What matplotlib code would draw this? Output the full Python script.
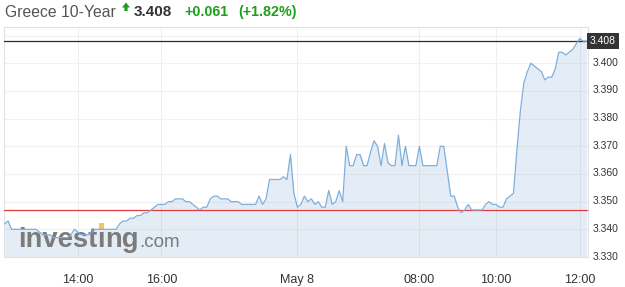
import matplotlib
matplotlib.use('Agg')
import matplotlib.pyplot as plt
import matplotlib.transforms as mtransforms
from matplotlib.patches import Polygon, Rectangle
import numpy as np

# ---------------- data ----------------
values = [
    3.342, 3.343, 3.340, 3.340, 3.340, 3.340, 3.340, 3.340, 3.340, 3.340,
    3.339, 3.338, 3.338, 3.338, 3.337, 3.337, 3.337, 3.337, 3.337, 3.338,
    3.340, 3.339, 3.338, 3.338, 3.338, 3.339, 3.340, 3.340, 3.340, 3.340,
    3.340, 3.340, 3.340, 3.342, 3.343, 3.343, 3.344, 3.344, 3.345, 3.345,
    3.346, 3.346, 3.347, 3.348, 3.349, 3.349, 3.349, 3.350, 3.350, 3.351,
    3.351, 3.351, 3.350, 3.350, 3.349, 3.348, 3.347, 3.348, 3.348, 3.351,
    3.352, 3.352, 3.351, 3.351, 3.351, 3.350, 3.350, 3.350, 3.349, 3.349,
    3.349, 3.349, 3.349, 3.352, 3.349, 3.351, 3.358, 3.358, 3.358, 3.358,
    3.359, 3.358, 3.367, 3.353, 3.348, 3.349, 3.352, 3.350, 3.351, 3.349,
    3.350, 3.348, 3.348, 3.354, 3.349, 3.350, 3.354, 3.350, 3.370, 3.363,
    3.363, 3.367, 3.367, 3.363, 3.363, 3.368, 3.372, 3.370, 3.363, 3.371,
    3.364, 3.363, 3.363, 3.374, 3.363, 3.370, 3.363, 3.363, 3.363, 3.370,
    3.363, 3.363, 3.363, 3.363, 3.363, 3.370, 3.370, 3.361, 3.352, 3.352,
    3.348, 3.346, 3.347, 3.349, 3.347, 3.347, 3.347, 3.347, 3.349, 3.350,
    3.349, 3.349, 3.348, 3.348, 3.351, 3.352, 3.353, 3.369, 3.383, 3.393,
    3.397, 3.400, 3.399, 3.398, 3.397, 3.394, 3.395, 3.395, 3.398, 3.404,
    3.404, 3.403, 3.404, 3.405, 3.407, 3.409, 3.408, 3.408,
]
x_tick_pos = [21, 45, 84, 119, 141, 165]
x_tick_labels = ['14:00', '16:00', 'May 8', '08:00', '10:00', '12:00']
y_ticks = [3.330, 3.340, 3.350, 3.360, 3.370, 3.380, 3.390, 3.400, 3.410]
y_tick_labels = ['3.330', '3.340', '3.350', '3.360', '3.370', '3.380', '3.390', '3.400', '']
prev_close = 3.347
last_value = 3.408
title_name = 'Greece 10-Year'
last_label = '3.408'
change_label = '+0.061'
pct_label = '(+1.82%)'

# ---------------- figure ----------------
plt.rcParams['font.family'] = ['Liberation Sans', 'DejaVu Sans']
W, H = 625, 287
fig = plt.figure(figsize=(W / 100, H / 100), dpi=100)
fig.patch.set_facecolor('white')

ax = fig.add_axes([4.3 / W, 30 / H, 583.4 / W, 229.7 / H])
ax.set_facecolor('white')
ymin, ymax = 3.3301, 3.4130
ax.set_ylim(ymin, ymax)
ax.set_xlim(-0.1, 167.3)

x = np.arange(len(values))
ax.fill_between(x, values, ymin, color='#6e9cc8', alpha=0.18, lw=0, zorder=1)
ax.plot(x, values, color='#7eaede', lw=0.9, zorder=4)
ax.axhline(prev_close, color='#e23b3b', lw=0.9, zorder=3)
ax.axhline(last_value, color='#2b2b2b', lw=0.9, zorder=3)

ax.set_axisbelow(True)
ax.yaxis.grid(True, color='#f1f1f1', lw=0.8)
ax.xaxis.grid(True, color='#eeeeee', lw=0.8)

for s in ax.spines.values():
    s.set_color('#e2e2e2')
    s.set_linewidth(0.8)

ax.yaxis.tick_right()
ax.set_yticks(y_ticks)
ax.set_yticklabels(y_tick_labels)
ax.tick_params(axis='y', length=0, pad=3.6, labelsize=7.5, labelcolor='#333333')
off = mtransforms.ScaledTranslation(0, 0.015, fig.dpi_scale_trans)
for lbl in ax.get_yticklabels():
    lbl.set_transform(lbl.get_transform() + off)

ax.set_xticks(x_tick_pos)
ax.set_xticklabels(x_tick_labels)
ax.tick_params(axis='x', length=0, pad=12.5, labelsize=9, labelcolor='#333333')
for lbl in ax.get_xticklabels():
    lbl.set_family(['Liberation Sans Narrow', 'Liberation Sans'])

# last value box
btr = mtransforms.blended_transform_factory(fig.transFigure, ax.transData)
ax.text(590 / W, last_value, last_label, transform=btr, ha='left', va='center',
        fontsize=7.5, color='white', clip_on=False, zorder=6,
        bbox=dict(boxstyle='square,pad=0.3', fc='#333333', ec='none'))

# ---------------- header ----------------
def fy(ypx):
    return (H - ypx) / H

fig.text(5 / W, fy(16.7), title_name, fontsize=11.3, color='#555555', va='baseline')
arrow = [(122, 7.5), (126, 2.5), (130, 7.5), (127.6, 7.5), (127.6, 11), (124.4, 11), (124.4, 7.5)]
fig.patches.append(Polygon([(px / W, fy(py)) for px, py in arrow], closed=True,
                           transform=fig.transFigure, fc='#1e9e1e', ec='none'))
fig.text(134 / W, fy(16.2), last_label, fontsize=11, fontweight='bold', color='#333333', va='baseline')
fig.text(184 / W, fy(16.0), change_label, fontsize=10.3, fontweight='bold', color='#1e9e1e', va='baseline')
fig.text(238 / W, fy(16.0), pct_label, fontsize=10.3, fontweight='bold', color='#1e9e1e', va='baseline')

# ---------------- watermark logo ----------------
fig.canvas.draw()
r = fig.canvas.get_renderer()
logo_col = '#7b7b7b'
base = fy(246.7)
kw = dict(transform=fig.transFigure, fontsize=19.7, fontweight='bold', color=logo_col,
          va='baseline', ha='left', zorder=2, clip_on=False)
t1 = ax.text(18.3 / W, base, 'invest', **kw)
b1 = t1.get_window_extent(r)
t2 = ax.text(b1.x1 / W, base, '\u0131', **kw)
b2 = t2.get_window_extent(r)
t3 = ax.text(b2.x1 / W, base, 'ng', **kw)
b3 = t3.get_window_extent(r)
cx = (b2.x0 + b2.x1) / 2
ax.add_patch(Rectangle(((cx - 2.6) / W, fy(228.5)), 5.2 / W, 5.2 / H, transform=fig.transFigure,
                       fc='#f8c25a', ec='none', zorder=2.5, clip_on=False))
ax.text(b3.x1 / W + 1 / W, base, '.com', transform=fig.transFigure, fontsize=13.5,
        color=logo_col, va='baseline', ha='left', zorder=2, clip_on=False)

fig.savefig('out.png', dpi=100, facecolor='white')
